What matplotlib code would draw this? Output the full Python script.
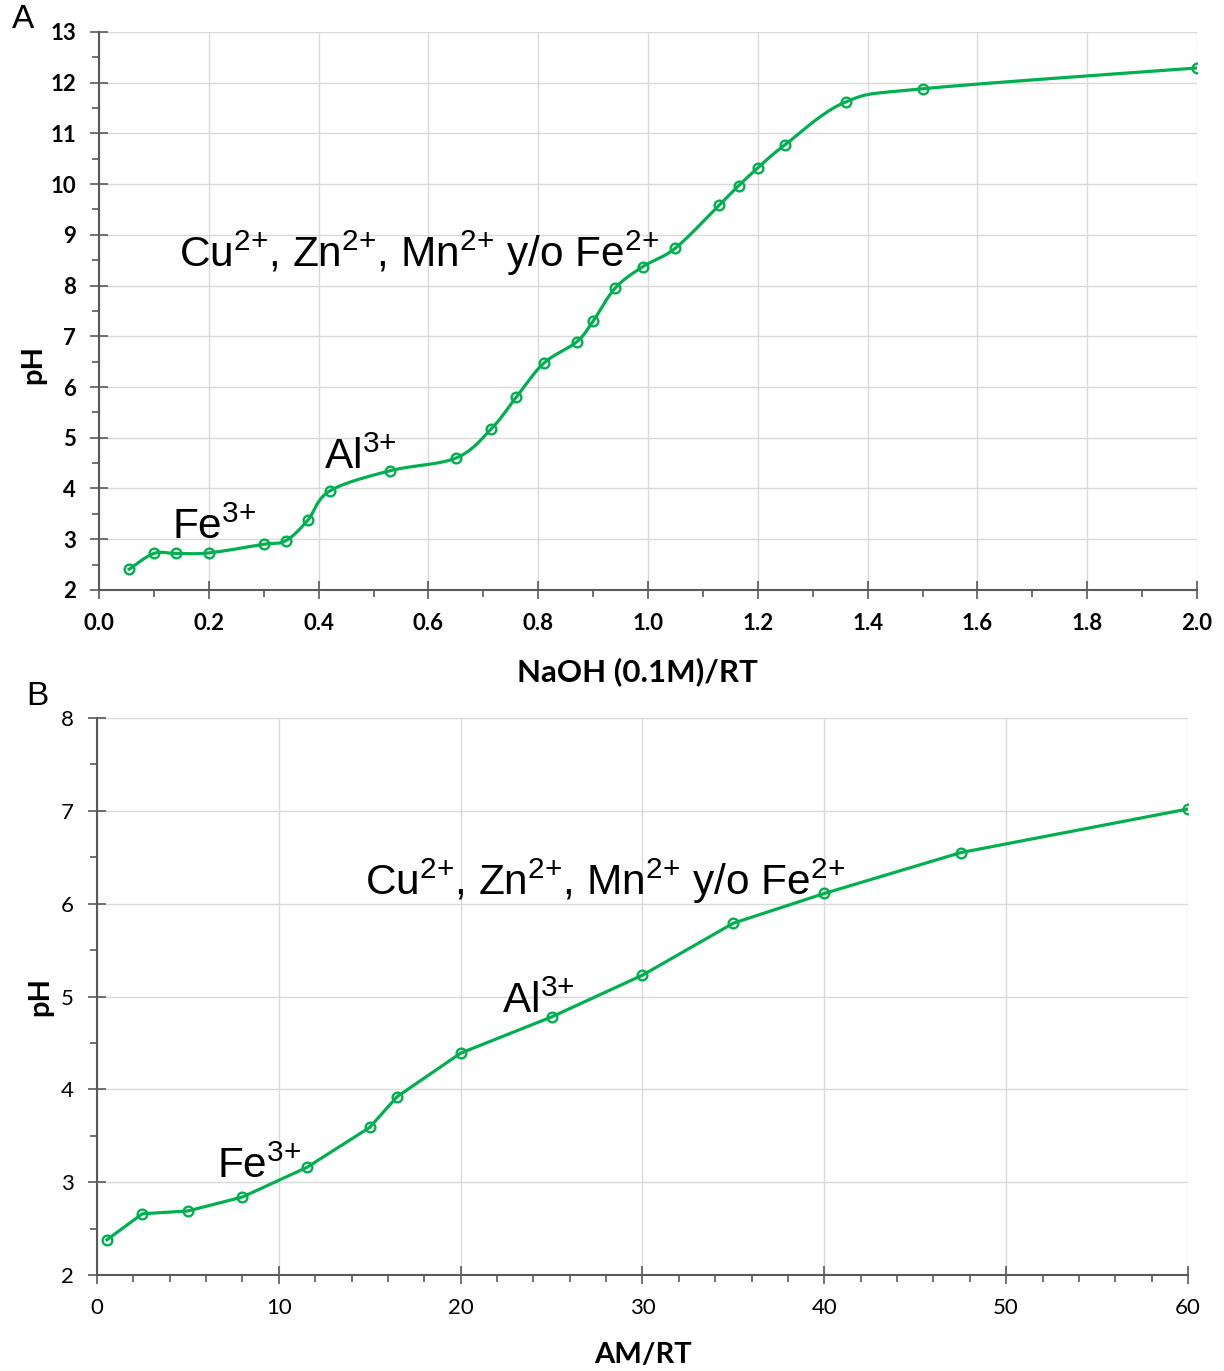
import numpy as np
import matplotlib
matplotlib.use("Agg")
import matplotlib.pyplot as plt
from matplotlib.ticker import MultipleLocator, FormatStrFormatter

plt.rcParams['font.family'] = ['Lato', 'DejaVu Sans']
plt.rcParams['mathtext.fontset'] = 'custom'
plt.rcParams['mathtext.rm'] = 'Liberation Sans'
plt.rcParams['mathtext.it'] = 'Liberation Sans'
plt.rcParams['mathtext.bf'] = 'Liberation Sans:bold'

# panel A: NaOH titration
naoh = [0.055, 0.10, 0.14, 0.20, 0.30, 0.34, 0.38, 0.42, 0.53, 0.65, 0.714, 0.76,
        0.81, 0.87, 0.90, 0.94, 0.99, 1.05, 1.13, 1.165, 1.20, 1.25, 1.36, 1.50, 2.00]
ph_naoh = [2.41, 2.72, 2.72, 2.73, 2.90, 2.97, 3.37, 3.95, 4.35, 4.60, 5.17, 5.80,
           6.47, 6.89, 7.30, 7.95, 8.37, 8.74, 9.59, 9.97, 10.32, 10.78, 11.62, 11.88, 12.29]

# panel B: AM titration
am = [0.55, 2.5, 5.0, 8.0, 11.55, 15.0, 16.5, 20.0, 25.0, 30.0, 35.0, 40.0, 47.5, 60.0]
ph_am = [2.38, 2.66, 2.69, 2.84, 3.16, 3.59, 3.92, 4.39, 4.78, 5.23, 5.79, 6.11, 6.55, 7.02]

ions = [r'Fe$^{3{+}}$', r'Al$^{3{+}}$',
        r'Cu$^{2{+}}$, Zn$^{2{+}}$, Mn$^{2{+}}$ y/o Fe$^{2{+}}$']

GREEN = '#00B050'
AXC = '#595959'


def smooth(x, y, n=20):
    # excel-style smoothed line (uniform catmull-rom)
    p = np.column_stack([x, y]).astype(float)
    p = np.vstack([p[0], p, p[-1]])
    out = []
    t = np.linspace(0, 1, n, endpoint=False)[:, None]
    for i in range(1, len(p) - 2):
        p0, p1, p2, p3 = p[i - 1], p[i], p[i + 1], p[i + 2]
        c1 = p1 + (p2 - p0) / 6
        c2 = p2 - (p3 - p1) / 6
        seg = ((1 - t) ** 3) * p1 + 3 * ((1 - t) ** 2) * t * c1 + 3 * (1 - t) * t ** 2 * c2 + t ** 3 * p2
        out.append(seg)
    out.append(p[-2][None, :])
    out = np.vstack(out)
    return out[:, 0], out[:, 1]


def style_axes(ax, bold):
    for s in ['top', 'right']:
        ax.spines[s].set_visible(False)
    for s in ['left', 'bottom']:
        ax.spines[s].set_color(AXC)
        ax.spines[s].set_linewidth(1.5)
    ax.grid(True, which='major', color='#d9d9d9', linewidth=1)
    ax.set_axisbelow(True)
    ax.tick_params(which='major', direction='inout', length=13, width=1.2, color=AXC,
                   labelsize=16)
    ax.tick_params(which='minor', direction='out', length=5, width=1.2, color=AXC)
    ax.tick_params(axis='x', which='major', pad=10)
    ax.tick_params(axis='y', which='major', pad=10)
    for lab in ax.get_xticklabels() + ax.get_yticklabels():
        lab.set_fontweight('bold' if bold else 'normal')


fig = plt.figure(figsize=(12.24, 13.71), dpi=100)

axA = fig.add_axes([0.0809, 0.5697, 0.8971, 0.4070])
sx, sy = smooth(naoh, ph_naoh)
axA.plot(sx, sy, color=GREEN, linewidth=2.3, zorder=3)
axA.plot(naoh, ph_naoh, 'o', color=GREEN, markerfacecolor='none', markersize=7,
         markeredgewidth=1.7, zorder=4)
axA.set_xlim(0, 2.0)
axA.set_ylim(2, 13)
axA.xaxis.set_major_locator(MultipleLocator(0.2))
axA.xaxis.set_minor_locator(MultipleLocator(0.1))
axA.yaxis.set_major_locator(MultipleLocator(1))
axA.yaxis.set_minor_locator(MultipleLocator(0.5))
axA.xaxis.set_major_formatter(FormatStrFormatter('%.1f'))
style_axes(axA, True)
axA.text(0.133, 3.0, ions[0], fontsize=30.5, family='Liberation Sans', va='baseline')
axA.text(0.41, 4.39, ions[1], fontsize=30.5, family='Liberation Sans', va='baseline')
axA.text(0.146, 8.37, ions[2], fontsize=30.5, family='Liberation Sans', va='baseline')

axB = fig.add_axes([0.0792, 0.0700, 0.8914, 0.4063])
axB.plot(am, ph_am, 'o-', color=GREEN, linewidth=2.3, markerfacecolor='none',
         markersize=7, markeredgewidth=1.7, zorder=3)
axB.set_xlim(0, 60)
axB.set_ylim(2, 8)
axB.xaxis.set_major_locator(MultipleLocator(10))
axB.xaxis.set_minor_locator(MultipleLocator(2))
axB.yaxis.set_major_locator(MultipleLocator(1))
axB.yaxis.set_minor_locator(MultipleLocator(0.5))
style_axes(axB, False)
axB.text(6.6, 3.05, ions[0], fontsize=30.5, family='Liberation Sans', va='baseline')
axB.text(22.3, 4.82, ions[1], fontsize=30.5, family='Liberation Sans', va='baseline')
axB.text(14.74, 6.09, ions[2], fontsize=30.5, family='Liberation Sans', va='baseline')

# axis labels and panel letters
fig.text(637 / 1224, 1 - 672 / 1371, 'NaOH (0.1M)/RT', fontsize=22.5, fontweight='bold',
         ha='center', va='center')
fig.text(33 / 1224, 1 - 365 / 1371, 'pH', fontsize=21, fontweight='bold',
         ha='center', va='center', rotation=90)
fig.text(643 / 1224, 1 - 1355 / 1371, 'AM/RT', fontsize=21, fontweight='bold',
         ha='center', va='center')
fig.text(40 / 1224, 1 - 997 / 1371, 'pH', fontsize=21, fontweight='bold',
         ha='center', va='center', rotation=90)
fig.text(23 / 1224, 1 - 20 / 1371, 'A', fontsize=24, family='Liberation Sans',
         ha='center', va='center')
fig.text(37 / 1224, 1 - 697 / 1371, 'B', fontsize=24, family='Liberation Sans',
         ha='center', va='center')

fig.savefig('out.png', dpi=100)
